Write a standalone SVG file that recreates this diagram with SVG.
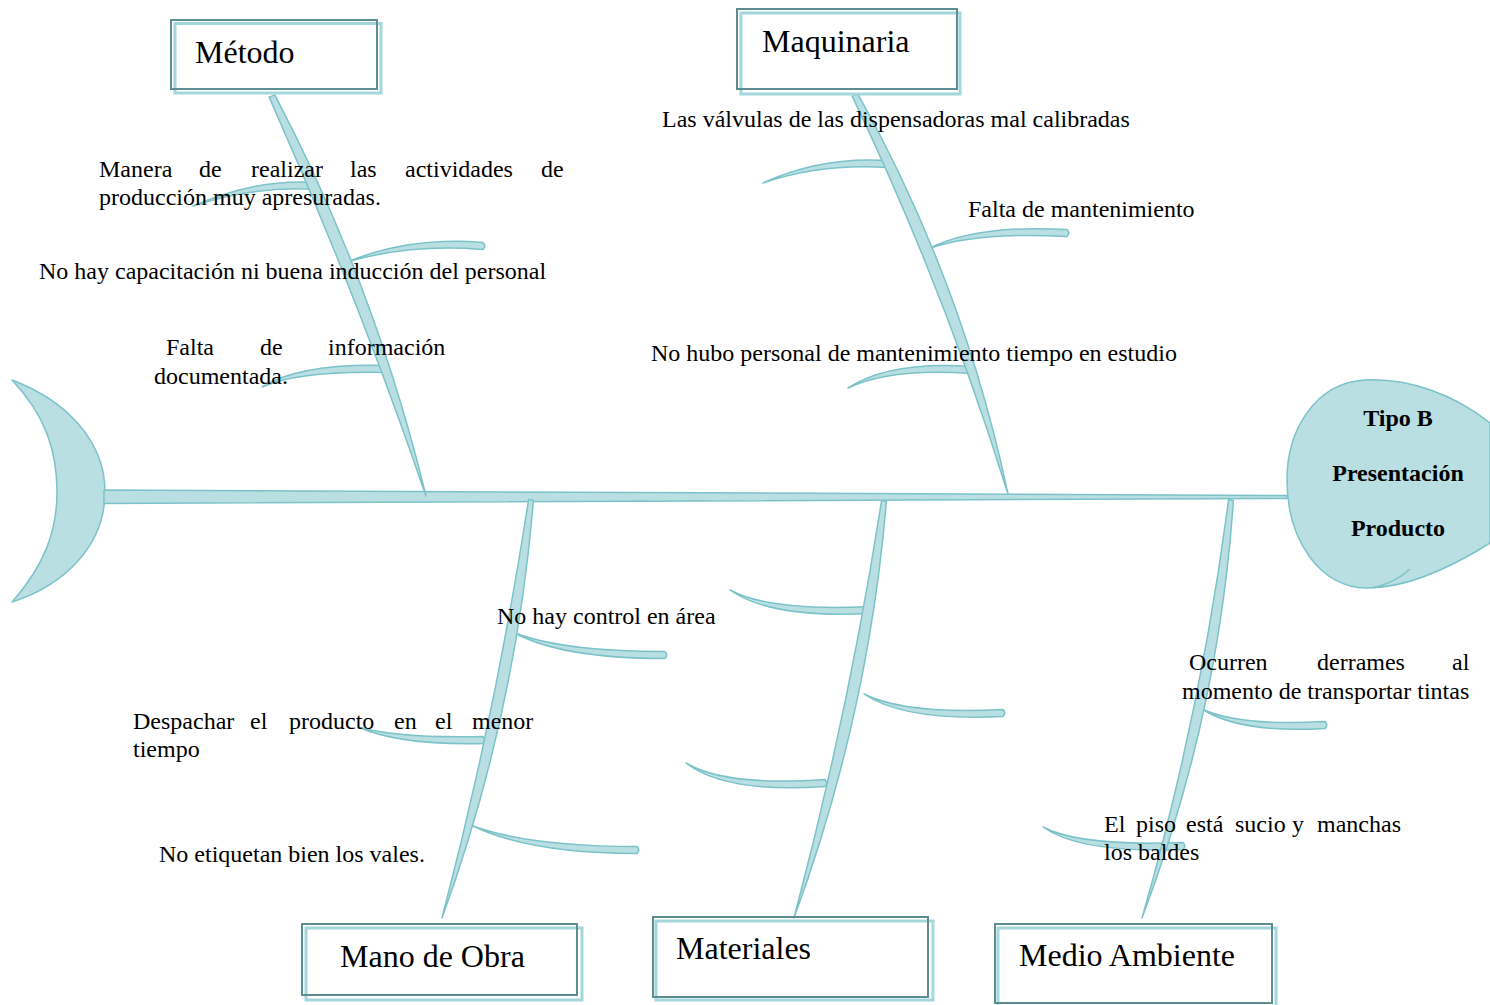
<svg xmlns="http://www.w3.org/2000/svg" width="1490" height="1005" viewBox="0 0 1490 1005">
<style>
.fish{fill:#b9dfe3;stroke:#7cc3c9;stroke-width:1.5;stroke-linejoin:round}
.boxl{fill:#ffffff;stroke:#a3d7dc;stroke-width:3}
.boxd{fill:none;stroke:#5e8d91;stroke-width:2}
.lbl{font-family:"Liberation Serif","Times New Roman",serif;font-size:32px;fill:#000}
.t{font-family:"Liberation Serif","Times New Roman",serif;font-size:24px;fill:#000}
.hd{font-family:"Liberation Serif","Times New Roman",serif;font-size:24px;font-weight:bold;fill:#000;text-anchor:middle}
</style>
<rect width="1490" height="1005" fill="#ffffff"/>
<g id="tail">
<path class="fish" d="M12,380 C65,400 105,440 105,492 C105,545 65,585 12,602 C45,565 57,530 57,492 C57,450 45,415 12,380 Z"/>
</g>
<g id="head">
<path class="fish" d="M1490,423 C1455,395 1410,378 1365,380 C1315,383 1287,430 1287,480 C1287,540 1320,588 1367,588 C1410,588 1455,565 1490,543 Z"/>
<path d="M1410,569 Q1395,583 1372,588" fill="none" stroke="#7cc3c9" stroke-width="1.5"/>
<text class="hd" x="1398" y="426">Tipo B</text>
<text class="hd" x="1398" y="481">Presentación</text>
<text class="hd" x="1398" y="536">Producto</text>
</g>
<g id="connectors">
<path class="fish" d="M104,490 L1287,495.6 L1287,498.4 L104,503.5 Z"/>
<g id="branches">
<path class="fish" d="M193,206 Q255,178.5 316,182.5 Q319.5,186 316,189.5 Q255,185.5 193,206 Z"/>
<path class="fish" d="M347,262 Q410,236.5 483,242.5 Q486.5,246 483,249.5 Q410,243.5 347,262 Z"/>
<path class="fish" d="M262,387 Q300,363.5 385,365.5 Q388.5,369 385,372.5 Q300,370.5 262,387 Z"/>
<path class="fish" d="M763,183 Q820,156.5 887,160.5 Q890.5,164 887,167.5 Q820,163.5 763,183 Z"/>
<path class="fish" d="M928,249 Q975,224.5 1067,229.5 Q1070.5,233 1067,236.5 Q975,231.5 928,249 Z"/>
<path class="fish" d="M848,388 Q890,360.5 972,366.5 Q975.5,370 972,373.5 Q890,367.5 848,388 Z"/>
<path class="fish" d="M513,632 Q560,651.5 665,651.5 Q668.5,655 665,658.5 Q560,658.5 513,632 Z"/>
<path class="fish" d="M358,727 Q400,738.5 483,736.5 Q486.5,740 483,743.5 Q400,745.5 358,727 Z"/>
<path class="fish" d="M473,826 Q530,846.5 637,846.5 Q640.5,850 637,853.5 Q530,853.5 473,826 Z"/>
<path class="fish" d="M730,590 Q770,611.5 870,606.5 Q873.5,610 870,613.5 Q770,618.5 730,590 Z"/>
<path class="fish" d="M864,694 Q905,714.5 1003,709.5 Q1006.5,713 1003,716.5 Q905,721.5 864,694 Z"/>
<path class="fish" d="M686,763 Q725,786.5 825,779.5 Q828.5,783 825,786.5 Q725,793.5 686,763 Z"/>
<path class="fish" d="M1202,709 Q1240,726.5 1325,721.5 Q1328.5,725 1325,728.5 Q1240,733.5 1202,709 Z"/>
<path class="fish" d="M1043,827 Q1080,846.5 1183,842.5 Q1186.5,846 1183,849.5 Q1080,853.5 1043,827 Z"/>
</g>
<g id="bones">
<path class="fish" d="M269.2,97.1 Q356.5,293.1 426,496 Q375.1,285.9 274.8,94.9 Z"/>
<path class="fish" d="M852.2,96.1 Q944.6,289.5 1008,494 Q963.2,282.3 857.8,93.9 Z"/>
<path class="fish" d="M528.6,499.5 Q496.3,711.1 442,918 Q515.9,715.2 533.4,500.5 Z"/>
<path class="fish" d="M881.6,500.5 Q848.8,711.6 794,918 Q868.4,715.8 886.4,501.5 Z"/>
<path class="fish" d="M1228.6,499.5 Q1201.2,712.1 1142,918 Q1218.8,715.9 1233.4,500.5 Z"/>
</g>
</g>
<g id="metodo">
<rect class="boxl" x="175" y="23.5" width="206" height="69.5"/>
<rect class="boxd" x="171" y="20" width="206" height="69"/>
<text class="lbl" x="195" y="63">Método</text>
</g>
<g id="maquinaria">
<rect class="boxl" x="741" y="13" width="219" height="81"/>
<rect class="boxd" x="737" y="9" width="220" height="80"/>
<text class="lbl" x="762" y="52">Maquinaria</text>
</g>
<g id="mano-de-obra">
<rect class="boxl" x="306" y="928" width="276" height="72"/>
<rect class="boxd" x="302" y="924" width="275" height="71"/>
<text class="lbl" x="340" y="967">Mano de Obra</text>
</g>
<g id="materiales">
<rect class="boxl" x="656" y="921" width="277" height="79"/>
<rect class="boxd" x="653" y="917" width="275" height="80"/>
<text class="lbl" x="676" y="959">Materiales</text>
</g>
<g id="medio-ambiente">
<rect class="boxl" x="998" y="928" width="278" height="80"/>
<rect class="boxd" x="995" y="924" width="277" height="79"/>
<text class="lbl" x="1019" y="966">Medio Ambiente</text>
</g>
<g id="causes">
<text class="t" x="662" y="127">Las válvulas de las dispensadoras mal calibradas</text>
<text class="t" x="968" y="217">Falta de mantenimiento</text>
<text class="t" x="651" y="361">No hubo personal de mantenimiento tiempo en estudio</text>
<text class="t" y="177"><tspan x="99">Manera</tspan><tspan x="199">de</tspan><tspan x="251">realizar</tspan><tspan x="350">las</tspan><tspan x="405">actividades</tspan><tspan x="541">de</tspan></text>
<text class="t" x="99" y="205">producción muy apresuradas.</text>
<text class="t" x="39" y="279">No hay capacitación ni buena inducción del personal</text>
<text class="t" y="355"><tspan x="166">Falta</tspan><tspan x="260">de</tspan><tspan x="328">información</tspan></text>
<text class="t" x="154" y="384">documentada.</text>
<text class="t" x="497" y="624">No hay control en área</text>
<text class="t" y="729"><tspan x="133">Despachar</tspan><tspan x="250">el</tspan><tspan x="289">producto</tspan><tspan x="394">en</tspan><tspan x="435">el</tspan><tspan x="472">menor</tspan></text>
<text class="t" x="133" y="757">tiempo</text>
<text class="t" x="159" y="862">No etiquetan bien los vales.</text>
<text class="t" y="670"><tspan x="1189">Ocurren</tspan><tspan x="1317">derrames</tspan><tspan x="1452">al</tspan></text>
<text class="t" x="1182" y="699">momento de transportar tintas</text>
<text class="t" y="832"><tspan x="1104">El</tspan><tspan x="1136">piso</tspan><tspan x="1186">está</tspan><tspan x="1235">sucio</tspan><tspan x="1292">y</tspan><tspan x="1317">manchas</tspan></text>
<text class="t" x="1104" y="860">los baldes</text>
</g>
</svg>
